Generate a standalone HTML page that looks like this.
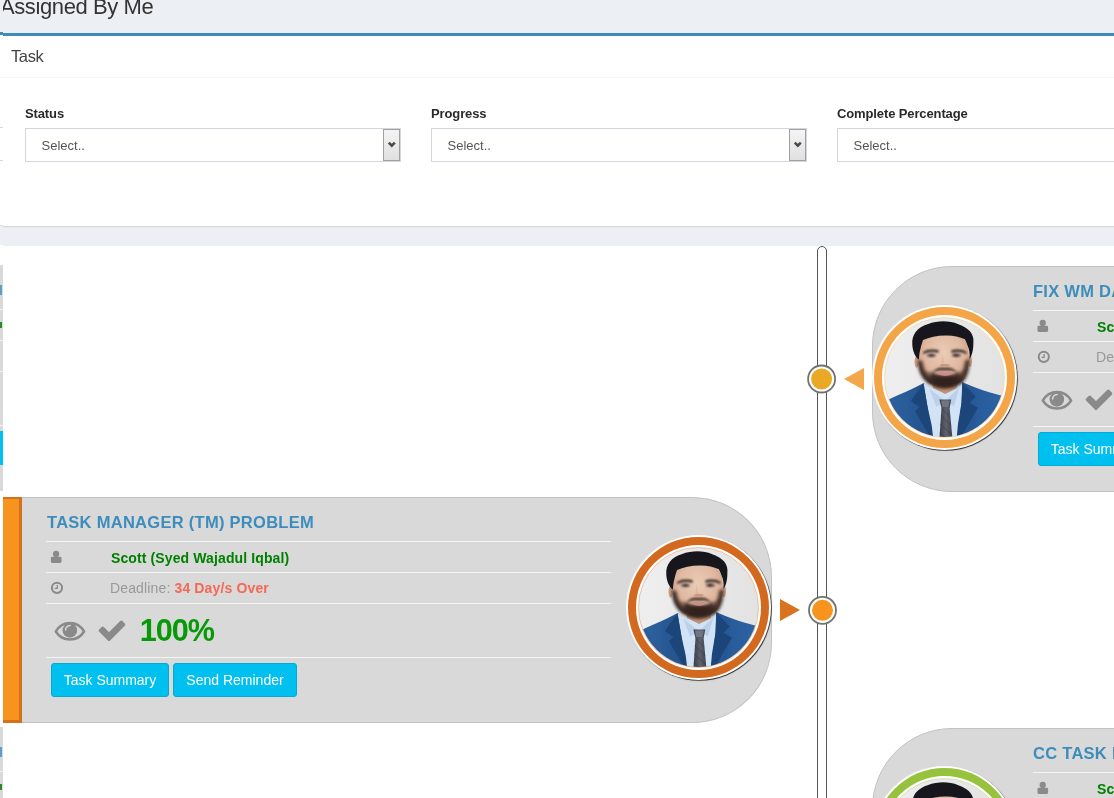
<!DOCTYPE html>
<html lang="en"><head><meta charset="utf-8"><title>Assigned By Me</title>
<style>
html,body{margin:0;padding:0}
body{width:1114px;height:798px;overflow:hidden;background:#ecf0f5;position:relative;font-family:"Liberation Sans",sans-serif;color:#333}
div,svg{box-sizing:border-box}
.ic{overflow:visible}
.abs,.ic,.card,.stripe,.ttl,.ln,.nm,.dl,.pct,.btn,.av,.arr,.avb{position:absolute}
.h1{position:absolute;left:0;top:-7px;font-size:22px;line-height:28px;color:#333;white-space:nowrap;letter-spacing:-.4px}
.box{position:absolute;left:3px;top:33px;width:1200px;height:193px;background:#fff;border-top:3px solid #3c8dbc;box-shadow:0 1px 1px rgba(0,0,0,.1)}
.boxs{position:absolute;left:0;top:32px;width:3px;height:193px;background:#fff;border-top:3px solid #3c8dbc;box-shadow:0 1px 0 rgba(0,0,0,.08)}
.bt{position:absolute;left:11px;top:45px;font-size:16.5px;line-height:22px;color:#444;white-space:nowrap;letter-spacing:-.4px}
.hl{position:absolute;left:0;top:77px;width:1200px;height:1px;background:#f4f4f4}
.lab{position:absolute;top:104.5px;font-size:13px;line-height:18px;font-weight:bold;color:#2a2a2a;white-space:nowrap;letter-spacing:-.12px}
.sel{position:absolute;top:128px;width:376px;height:34px;border:1px solid #d2d6de;background:#fff}
.sel span{position:absolute;left:15.5px;top:7.7px;font-size:13px;line-height:18px;color:#555;white-space:nowrap;transform-origin:0 0}
.sel i{position:absolute;right:0;top:0;width:17px;height:32px;box-sizing:border-box;border:1px solid #a0a0a0;background:linear-gradient(#f4f4f4,#e0e0e0)}
.sel i svg{position:absolute;left:2.85px;top:11.4px}
.white{position:absolute;left:3px;top:246px;width:1200px;height:560px;background:#fff}
.whites{position:absolute;left:0;top:245px;width:3px;height:560px;background:#fff}
.bar{position:absolute;left:817px;top:246px;width:10px;height:600px;border:1px solid #555;border-radius:5px;background:#fff}
.card{background:#d9d9d9;border:1px solid #c2c2c2}
.cl{border-radius:0 80px 80px 0;border-left:0}
.cr{border-radius:80px 0 0 80px}
.stripe{width:19px;border:solid;border-width:2px 3px 3px 0}
.ttl{font-size:16.5px;line-height:22px;font-weight:bold;color:#3c8dbc;letter-spacing:.28px;white-space:nowrap;transform-origin:0 0}
.ln{height:1px;background:#f4f4f4}
.nm{font-size:14px;line-height:18px;font-weight:bold;color:#008000;white-space:nowrap;letter-spacing:.115px}
.dl{font-size:14px;line-height:18px;color:#999;white-space:nowrap;letter-spacing:.14px}
.dl b{color:#f56954}
.pct{font-size:30.6px;line-height:36px;font-weight:bold;color:#089908;white-space:nowrap;letter-spacing:-1px}
.btn{height:34px;background:#00c0ef;border:1px solid #00acd6;border-radius:3px;color:#fff;font-size:14px;line-height:32px;text-align:center;white-space:nowrap}
.av{width:145px;height:145px;border-radius:50%;background:#fff;box-shadow:.8px .8px .7px rgba(0,0,0,.8)}
.rg{position:absolute;left:2px;top:2px;width:141px;height:141px;border-radius:50%}
.wh{position:absolute;left:10.2px;top:10.2px;width:124.6px;height:124.6px;border-radius:50%;background:#fff}
.avi{position:absolute;left:12.6px;top:12.6px;width:119.8px;height:119.8px;border-radius:50%;overflow:hidden;background:#e8e8e8}
.avb{position:absolute;left:12.3px;top:12.3px;width:120.4px;height:120.4px;border-radius:50%;border:.7px solid #000;opacity:.4}
.avi svg{position:absolute;left:-3.6px;top:-4.6px;width:128px;height:128px}
.arr{width:0;height:0;border-top:11px solid transparent;border-bottom:11px solid transparent}
</style></head><body>
<div class="h1" id="h1">Assigned By Me</div>
<div class="abs" style="left:0;top:0;width:3px;height:32px;background:#ecf0f5"></div>
<div class="box"></div><div class="boxs"></div>
<div class="bt" id="bt">Task</div>
<div class="hl"></div>
<div class="lab" style="left:25px">Status</div>
<div class="lab" style="left:431px">Progress</div>
<div class="lab" style="left:837px">Complete Percentage</div>
<div class="sel" style="left:25px"><span>Select..</span><i><svg width="10" height="8" viewBox="0 0 10 8"><path d="M1.8 1.7l3 3 3-3" fill="none" stroke="#4a4a4a" stroke-width="2.600"/></svg></i></div>
<div class="sel" style="left:431px"><span>Select..</span><i><svg width="10" height="8" viewBox="0 0 10 8"><path d="M1.8 1.7l3 3 3-3" fill="none" stroke="#4a4a4a" stroke-width="2.600"/></svg></i></div>
<div class="sel" style="left:837px"><span>Select..</span><i><svg width="10" height="8" viewBox="0 0 10 8"><path d="M1.8 1.7l3 3 3-3" fill="none" stroke="#4a4a4a" stroke-width="2.600"/></svg></i></div>
<div class="abs" style="left:0;top:127px;width:3px;height:34px;border:solid #d2d6de;border-width:1px 0"></div>
<div class="white"></div><div class="whites"></div>
<div class="bar"></div>
<div style="position:absolute;left:0;top:265px;width:3px;height:226px;background:#d9d9d9"></div>
<div style="position:absolute;left:0;top:309px;width:3px;height:1px;background:#f4f4f4"></div>
<div style="position:absolute;left:0;top:340px;width:3px;height:1px;background:#f4f4f4"></div>
<div style="position:absolute;left:0;top:371px;width:3px;height:1px;background:#f4f4f4"></div>
<div style="position:absolute;left:0;top:425px;width:3px;height:1px;background:#f4f4f4"></div>
<div style="position:absolute;left:0;top:431px;width:3px;height:34px;background:#00c0ef"></div>
<div style="position:absolute;left:0;top:285px;width:2px;height:10px;background:#5f9fc6"></div>
<div style="position:absolute;left:0;top:322px;width:2px;height:6px;background:#2a8a2a"></div>
<div style="position:absolute;left:0;top:727px;width:3px;height:226px;background:#d9d9d9"></div>
<div style="position:absolute;left:0;top:771px;width:3px;height:1px;background:#f4f4f4"></div>
<div style="position:absolute;left:0;top:802px;width:3px;height:1px;background:#f4f4f4"></div>
<div style="position:absolute;left:0;top:833px;width:3px;height:1px;background:#f4f4f4"></div>
<div style="position:absolute;left:0;top:887px;width:3px;height:1px;background:#f4f4f4"></div>
<div style="position:absolute;left:0;top:893px;width:3px;height:34px;background:#00c0ef"></div>
<div style="position:absolute;left:0;top:747px;width:2px;height:10px;background:#5f9fc6"></div>
<div style="position:absolute;left:0;top:784px;width:2px;height:6px;background:#2a8a2a"></div>
<div class="card cr" style="left:872px;top:266px;width:400px;height:226px"></div>
<div class="ttl" style="left:1033px;top:280px">FIX WM DASHBOARD</div>
<div class="ln" style="left:1033px;top:310px;width:100px"></div>
<div class="ln" style="left:1033px;top:341px;width:100px"></div>
<div class="ln" style="left:1033px;top:372px;width:100px"></div>
<div class="ln" style="left:1033px;top:426px;width:100px"></div>
<svg class="ic" style="left:1036px;top:319px" width="14" height="15" viewBox="0 0 14 15"><g transform="translate(0.6 0)"><rect x="0.9" y="6.8" width="10.6" height="6.100" rx="1.3" fill="#8a8a8a"/><circle cx="6.100" cy="4" r="3.150" fill="#8a8a8a"/></g></svg>
<div class="nm" style="left:1097px;top:317.5px">Scott (Syed Wajadul Iqbal)</div>
<svg class="ic" style="left:1037px;top:350px" width="14" height="14" viewBox="0 0 14 14"><g transform="translate(0.3 0.5)"><circle cx="6.500" cy="6.350" r="5.100" fill="none" stroke="#8a8a8a" stroke-width="2"/><path d="M6.800 3.600V6.900H4.300" fill="none" stroke="#8a8a8a" stroke-width="1.300"/></g></svg>
<div class="dl" style="left:1096px;top:348px">Deadline: <b>34 Day/s Over</b></div>
<svg class="ic" style="left:1041px;top:390px" width="32" height="21" viewBox="0 0 32 21"><g transform="translate(0.2 0)"><path fill="none" stroke="#8a8a8a" stroke-width="2.5" stroke-linejoin="round" d="M1.6 10.5C4.7 5.2 9.8 2 15.75 2S26.8 5.2 29.9 10.5C26.8 15.5 21.7 18.500 15.75 18.500S4.7 15.5 1.6 10.5z"/><circle cx="15.65" cy="9.4" r="7.3" fill="#8a8a8a"/><path d="M11.4 8.9a4.500 4.500 0 0 1 4.500-4.500" fill="none" stroke="#d9d9d9" stroke-width="1.5" stroke-linecap="round"/></g></svg>
<svg class="ic" style="left:1085px;top:389px" width="28" height="22" viewBox="0 0 28 22"><g transform="translate(0.5 0.5)"><path fill="#8a8a8a" stroke="#8a8a8a" stroke-width="3.2" stroke-linejoin="round" d="M1.8 10.1L4.2 7.7 10.5 14 22.8 1.7 25.2 4.1 10.5 18.8z"/></g></svg>
<div class="btn" style="left:1038px;top:432px;width:118px">Task Summary</div>
<div class="av" style="left:872px;top:305px"><div class="rg" style="background:#f4a548"></div><div class="wh"></div><div class="avi"><svg viewBox="0 0 798 798" width="128" height="128">
<defs>
<linearGradient id="pbg_1" x1="0" x2="1" y1="0" y2="0"><stop offset="0" stop-color="#efefef"/><stop offset="1" stop-color="#e2e2e2"/></linearGradient>
<radialGradient id="psk_1" cx=".5" cy=".38" r=".62"><stop offset="0" stop-color="#ebccb6"/><stop offset=".6" stop-color="#e0b8a1"/><stop offset="1" stop-color="#c8957b"/></radialGradient>
<linearGradient id="pst_1" x1="0" x2="1" y1="0" y2="0"><stop offset="0" stop-color="#2d64a3"/><stop offset=".35" stop-color="#26548e"/><stop offset=".7" stop-color="#275896"/><stop offset="1" stop-color="#2f68a9"/></linearGradient>
<linearGradient id="pti_1" x1="0" x2="1" y1="0" y2="0"><stop offset="0" stop-color="#3a3e49"/><stop offset=".5" stop-color="#5d616d"/><stop offset="1" stop-color="#3f434e"/></linearGradient>
<filter id="pb_1" x="-5%" y="-5%" width="110%" height="110%"><feGaussianBlur stdDeviation="3.5"/></filter>
<filter id="pb2_1" x="-20%" y="-20%" width="140%" height="140%"><feGaussianBlur stdDeviation="9"/></filter>
<filter id="pb3_1" x="-20%" y="-40%" width="140%" height="180%"><feGaussianBlur stdDeviation="5"/></filter>
</defs>
<rect width="798" height="798" fill="url(#pbg_1)"/>
<g filter="url(#pb_1)">
<path fill="url(#pst_1)" d="M30 548 C80 520 170 490 266 436 L400 540 L506 430 C590 470 690 500 775 520 L800 800 L0 800z"/>
<path fill="#d2e3f5" d="M266 438 L330 470 L400 500 L470 468 L506 432 L502 560 L472 800 L322 800 L292 600z"/>
<path fill="#bcd1e9" d="M300 470 L400 548 L345 585z"/>
<path fill="#bcd1e9" d="M490 462 L400 548 L455 582z"/>
<path fill="#1e4479" d="M264 440 L186 548 L240 586 L212 612 L322 800 L328 800 L316 700 L292 592z"/>
<path fill="#1e4479" d="M508 434 L590 520 L552 560 L604 590 L484 800 L470 800 L480 690 L502 560z"/>
<path fill="#c29378" d="M310 410 L488 410 L470 470 L400 505 L325 468z"/>
<path fill="url(#pti_1)" d="M364 540 L438 540 L428 594 L447 800 L363 800 L377 594z"/>
<path fill="#70747f" d="M374 546 L428 546 L420 586 L382 586z"/>
<ellipse cx="222" cy="305" rx="13" ry="36" fill="#d3a188"/>
<ellipse cx="554" cy="300" rx="13" ry="36" fill="#d3a188"/>
<path fill="url(#psk_1)" d="M230 250 C226 170 290 118 392 118 C492 118 548 170 547 250 C550 320 540 372 520 405 C500 435 460 462 398 466 C340 462 300 440 272 405 C248 372 232 320 230 250z"/>
</g>
<g filter="url(#pb2_1)">
<path fill="#33241f" opacity=".95" d="M228 268 C236 330 252 378 285 408 C300 398 312 388 322 372 C350 392 450 392 478 372 C488 388 500 398 512 408 C540 378 546 330 551 264 C560 350 540 400 512 430 C480 458 440 470 398 472 C350 470 312 456 282 428 C246 396 224 350 228 268z"/>
<path fill="#33241f" opacity=".9" d="M322 440 C338 418 346 404 350 394 C375 404 422 404 446 394 C452 404 462 420 476 440 C448 462 425 468 398 468 C365 468 345 460 322 440z"/>
<path fill="#2e211d" opacity=".8" d="M231 296 C236 360 262 412 300 442 L320 420 C288 395 266 350 258 298z"/>
<path fill="#2e211d" opacity=".8" d="M549 292 C546 360 520 412 484 442 L466 420 C498 395 520 350 524 294z"/>
<path fill="#4a362d" opacity=".6" d="M244 340 C262 365 295 372 330 366 L306 430 C270 405 250 375 244 340z"/>
<path fill="#4a362d" opacity=".6" d="M536 340 C518 365 490 372 466 366 L488 430 C520 405 532 375 536 340z"/>
</g>
<g filter="url(#pb_1)">
<path fill="#3b2b25" opacity=".9" filter="url(#pb3_1)" d="M322 372 C342 340 374 336 398 342 C422 336 454 340 476 372 C446 358 422 358 398 360 C374 358 350 358 322 372z"/>
<path fill="#c98e87" d="M350 376 C370 364 386 368 399 370 C412 368 430 364 450 376 C428 396 372 396 350 376z"/>
<path fill="#19191d" d="M236 292 C212 272 197 236 195 196 C190 132 228 90 290 70 C325 58 358 52 388 52 C420 52 452 58 482 70 C548 92 582 132 576 184 C576 232 568 262 552 288 C554 250 550 226 540 204 C532 186 528 172 522 164 C490 146 440 138 400 140 C350 140 300 152 262 168 C254 190 250 206 246 224 C240 246 238 264 236 292z"/>
<path fill="#c9977c" d="M364 324 C380 338 414 338 430 324 C416 316 378 316 364 324z"/>
<path fill="#d4a68d" opacity=".45" d="M384 256 L376 312 L394 318z"/>
</g>
<g filter="url(#pb3_1)">
<path fill="#2a211f" d="M262 244 C290 226 330 224 360 234 L358 248 C328 238 296 240 264 256z"/>
<path fill="#2a211f" d="M438 234 C468 224 508 226 534 244 L532 256 C502 240 470 238 440 248z"/>
<ellipse cx="314" cy="264" rx="28" ry="10" fill="#5a474b"/>
<ellipse cx="470" cy="263" rx="28" ry="10" fill="#5a474b"/>
<ellipse cx="316" cy="264" rx="11" ry="9" fill="#2c2830"/>
<ellipse cx="468" cy="263" rx="11" ry="9" fill="#2c2830"/>
</g>
<g stroke="#2e313a" stroke-width="5" opacity=".5" filter="url(#pb_1)">
<path d="M372 640 L438 700 M368 692 L442 758 M376 596 L432 648 M366 745 L420 798"/>
</g>
<path d="M340 27 H452" stroke="#6a6a66" stroke-width="5" fill="none"/>
</svg>
</div><div class="avb" style="border-color:#f4a548"></div></div>
<div class="arr" style="left:844px;top:368px;border-right:20px solid #f4a64a"></div>
<svg class="ic" style="left:807px;top:364px" width="30" height="30" viewBox="0 0 30 30"><g transform="translate(0.1 0.5)"><circle cx="14.500" cy="14.500" r="13.500" fill="#fff" stroke="#727272" stroke-width="1.800"/><circle cx="14.500" cy="14.500" r="10.500" fill="#e9a825"/></g></svg>
<div class="card cl" style="left:3px;top:497px;width:768.5px;height:226px"></div>
<div class="stripe" style="left:3px;top:497px;height:226px;background:#f7941e;border-color:#d4711f"></div>
<div class="ttl" style="left:47px;top:511px">TASK MANAGER (TM) PROBLEM</div>
<div class="ln" style="left:46px;top:541px;width:565px"></div>
<div class="ln" style="left:46px;top:572px;width:565px"></div>
<div class="ln" style="left:46px;top:603px;width:565px"></div>
<div class="ln" style="left:46px;top:657px;width:565px"></div>
<svg class="ic" style="left:50px;top:550px" width="14" height="15" viewBox="0 0 14 15"><g transform="translate(0 0)"><rect x="0.9" y="6.8" width="10.6" height="6.100" rx="1.3" fill="#8a8a8a"/><circle cx="6.100" cy="4" r="3.150" fill="#8a8a8a"/></g></svg>
<div class="nm" style="left:111px;top:548.5px">Scott (Syed Wajadul Iqbal)</div>
<svg class="ic" style="left:50px;top:581px" width="14" height="14" viewBox="0 0 14 14"><g transform="translate(0.5 0.5)"><circle cx="6.500" cy="6.350" r="5.100" fill="none" stroke="#8a8a8a" stroke-width="2"/><path d="M6.800 3.600V6.900H4.300" fill="none" stroke="#8a8a8a" stroke-width="1.300"/></g></svg>
<div class="dl" style="left:110px;top:579px">Deadline: <b>34 Day/s Over</b></div>
<svg class="ic" style="left:54px;top:621px" width="32" height="21" viewBox="0 0 32 21"><g transform="translate(0.2 0)"><path fill="none" stroke="#8a8a8a" stroke-width="2.5" stroke-linejoin="round" d="M1.6 10.5C4.7 5.2 9.8 2 15.75 2S26.8 5.2 29.9 10.5C26.8 15.5 21.7 18.500 15.75 18.500S4.7 15.5 1.6 10.5z"/><circle cx="15.65" cy="9.4" r="7.3" fill="#8a8a8a"/><path d="M11.4 8.9a4.500 4.500 0 0 1 4.500-4.500" fill="none" stroke="#d9d9d9" stroke-width="1.5" stroke-linecap="round"/></g></svg>
<svg class="ic" style="left:98px;top:620px" width="28" height="22" viewBox="0 0 28 22"><g transform="translate(0.5 0.5)"><path fill="#8a8a8a" stroke="#8a8a8a" stroke-width="3.2" stroke-linejoin="round" d="M1.8 10.1L4.2 7.7 10.5 14 22.8 1.7 25.2 4.1 10.5 18.8z"/></g></svg>
<div class="pct" style="left:139.7px;top:612px">100%</div>
<div class="btn" style="left:51px;top:663px;width:118px">Task Summary</div>
<div class="btn" style="left:173px;top:663px;width:124px">Send Reminder</div>
<div class="av" style="left:626px;top:535px"><div class="rg" style="background:#d2691e"></div><div class="wh"></div><div class="avi"><svg viewBox="0 0 798 798" width="128" height="128">
<defs>
<linearGradient id="pbg_2" x1="0" x2="1" y1="0" y2="0"><stop offset="0" stop-color="#efefef"/><stop offset="1" stop-color="#e2e2e2"/></linearGradient>
<radialGradient id="psk_2" cx=".5" cy=".38" r=".62"><stop offset="0" stop-color="#ebccb6"/><stop offset=".6" stop-color="#e0b8a1"/><stop offset="1" stop-color="#c8957b"/></radialGradient>
<linearGradient id="pst_2" x1="0" x2="1" y1="0" y2="0"><stop offset="0" stop-color="#2d64a3"/><stop offset=".35" stop-color="#26548e"/><stop offset=".7" stop-color="#275896"/><stop offset="1" stop-color="#2f68a9"/></linearGradient>
<linearGradient id="pti_2" x1="0" x2="1" y1="0" y2="0"><stop offset="0" stop-color="#3a3e49"/><stop offset=".5" stop-color="#5d616d"/><stop offset="1" stop-color="#3f434e"/></linearGradient>
<filter id="pb_2" x="-5%" y="-5%" width="110%" height="110%"><feGaussianBlur stdDeviation="3.5"/></filter>
<filter id="pb2_2" x="-20%" y="-20%" width="140%" height="140%"><feGaussianBlur stdDeviation="9"/></filter>
<filter id="pb3_2" x="-20%" y="-40%" width="140%" height="180%"><feGaussianBlur stdDeviation="5"/></filter>
</defs>
<rect width="798" height="798" fill="url(#pbg_2)"/>
<g filter="url(#pb_2)">
<path fill="url(#pst_2)" d="M30 548 C80 520 170 490 266 436 L400 540 L506 430 C590 470 690 500 775 520 L800 800 L0 800z"/>
<path fill="#d2e3f5" d="M266 438 L330 470 L400 500 L470 468 L506 432 L502 560 L472 800 L322 800 L292 600z"/>
<path fill="#bcd1e9" d="M300 470 L400 548 L345 585z"/>
<path fill="#bcd1e9" d="M490 462 L400 548 L455 582z"/>
<path fill="#1e4479" d="M264 440 L186 548 L240 586 L212 612 L322 800 L328 800 L316 700 L292 592z"/>
<path fill="#1e4479" d="M508 434 L590 520 L552 560 L604 590 L484 800 L470 800 L480 690 L502 560z"/>
<path fill="#c29378" d="M310 410 L488 410 L470 470 L400 505 L325 468z"/>
<path fill="url(#pti_2)" d="M364 540 L438 540 L428 594 L447 800 L363 800 L377 594z"/>
<path fill="#70747f" d="M374 546 L428 546 L420 586 L382 586z"/>
<ellipse cx="222" cy="305" rx="13" ry="36" fill="#d3a188"/>
<ellipse cx="554" cy="300" rx="13" ry="36" fill="#d3a188"/>
<path fill="url(#psk_2)" d="M230 250 C226 170 290 118 392 118 C492 118 548 170 547 250 C550 320 540 372 520 405 C500 435 460 462 398 466 C340 462 300 440 272 405 C248 372 232 320 230 250z"/>
</g>
<g filter="url(#pb2_2)">
<path fill="#33241f" opacity=".95" d="M228 268 C236 330 252 378 285 408 C300 398 312 388 322 372 C350 392 450 392 478 372 C488 388 500 398 512 408 C540 378 546 330 551 264 C560 350 540 400 512 430 C480 458 440 470 398 472 C350 470 312 456 282 428 C246 396 224 350 228 268z"/>
<path fill="#33241f" opacity=".9" d="M322 440 C338 418 346 404 350 394 C375 404 422 404 446 394 C452 404 462 420 476 440 C448 462 425 468 398 468 C365 468 345 460 322 440z"/>
<path fill="#2e211d" opacity=".8" d="M231 296 C236 360 262 412 300 442 L320 420 C288 395 266 350 258 298z"/>
<path fill="#2e211d" opacity=".8" d="M549 292 C546 360 520 412 484 442 L466 420 C498 395 520 350 524 294z"/>
<path fill="#4a362d" opacity=".6" d="M244 340 C262 365 295 372 330 366 L306 430 C270 405 250 375 244 340z"/>
<path fill="#4a362d" opacity=".6" d="M536 340 C518 365 490 372 466 366 L488 430 C520 405 532 375 536 340z"/>
</g>
<g filter="url(#pb_2)">
<path fill="#3b2b25" opacity=".9" filter="url(#pb3_2)" d="M322 372 C342 340 374 336 398 342 C422 336 454 340 476 372 C446 358 422 358 398 360 C374 358 350 358 322 372z"/>
<path fill="#c98e87" d="M350 376 C370 364 386 368 399 370 C412 368 430 364 450 376 C428 396 372 396 350 376z"/>
<path fill="#19191d" d="M236 292 C212 272 197 236 195 196 C190 132 228 90 290 70 C325 58 358 52 388 52 C420 52 452 58 482 70 C548 92 582 132 576 184 C576 232 568 262 552 288 C554 250 550 226 540 204 C532 186 528 172 522 164 C490 146 440 138 400 140 C350 140 300 152 262 168 C254 190 250 206 246 224 C240 246 238 264 236 292z"/>
<path fill="#c9977c" d="M364 324 C380 338 414 338 430 324 C416 316 378 316 364 324z"/>
<path fill="#d4a68d" opacity=".45" d="M384 256 L376 312 L394 318z"/>
</g>
<g filter="url(#pb3_2)">
<path fill="#2a211f" d="M262 244 C290 226 330 224 360 234 L358 248 C328 238 296 240 264 256z"/>
<path fill="#2a211f" d="M438 234 C468 224 508 226 534 244 L532 256 C502 240 470 238 440 248z"/>
<ellipse cx="314" cy="264" rx="28" ry="10" fill="#5a474b"/>
<ellipse cx="470" cy="263" rx="28" ry="10" fill="#5a474b"/>
<ellipse cx="316" cy="264" rx="11" ry="9" fill="#2c2830"/>
<ellipse cx="468" cy="263" rx="11" ry="9" fill="#2c2830"/>
</g>
<g stroke="#2e313a" stroke-width="5" opacity=".5" filter="url(#pb_2)">
<path d="M372 640 L438 700 M368 692 L442 758 M376 596 L432 648 M366 745 L420 798"/>
</g>
<path d="M340 27 H452" stroke="#6a6a66" stroke-width="5" fill="none"/>
</svg>
</div><div class="avb" style="border-color:#d2691e"></div></div>
<div class="arr" style="left:780px;top:599px;border-left:20px solid #d9731f"></div>
<svg class="ic" style="left:808px;top:595px" width="30" height="30" viewBox="0 0 30 30"><g transform="translate(0 0.8)"><circle cx="14.500" cy="14.500" r="13.500" fill="#fff" stroke="#727272" stroke-width="1.800"/><circle cx="14.500" cy="14.500" r="10.500" fill="#f7941e"/></g></svg>
<div class="card cr" style="left:872px;top:728px;width:400px;height:226px"></div>
<div class="ttl" style="left:1033px;top:742px">CC TASK MANAGER</div>
<div class="ln" style="left:1033px;top:772px;width:100px"></div>
<div class="ln" style="left:1033px;top:803px;width:100px"></div>
<div class="ln" style="left:1033px;top:834px;width:100px"></div>
<div class="ln" style="left:1033px;top:888px;width:100px"></div>
<svg class="ic" style="left:1036px;top:781px" width="14" height="15" viewBox="0 0 14 15"><g transform="translate(0.6 0)"><rect x="0.9" y="6.8" width="10.6" height="6.100" rx="1.3" fill="#8a8a8a"/><circle cx="6.100" cy="4" r="3.150" fill="#8a8a8a"/></g></svg>
<div class="nm" style="left:1097px;top:779.5px">Scott (Syed Wajadul Iqbal)</div>
<svg class="ic" style="left:1037px;top:812px" width="14" height="14" viewBox="0 0 14 14"><g transform="translate(0.3 0.5)"><circle cx="6.500" cy="6.350" r="5.100" fill="none" stroke="#8a8a8a" stroke-width="2"/><path d="M6.800 3.600V6.900H4.300" fill="none" stroke="#8a8a8a" stroke-width="1.300"/></g></svg>
<div class="dl" style="left:1096px;top:810px">Deadline: <b>34 Day/s Over</b></div>
<svg class="ic" style="left:1041px;top:852px" width="32" height="21" viewBox="0 0 32 21"><g transform="translate(0.2 0)"><path fill="none" stroke="#8a8a8a" stroke-width="2.5" stroke-linejoin="round" d="M1.6 10.5C4.7 5.2 9.8 2 15.75 2S26.8 5.2 29.9 10.5C26.8 15.5 21.7 18.500 15.75 18.500S4.7 15.5 1.6 10.5z"/><circle cx="15.65" cy="9.4" r="7.3" fill="#8a8a8a"/><path d="M11.4 8.9a4.500 4.500 0 0 1 4.500-4.500" fill="none" stroke="#d9d9d9" stroke-width="1.5" stroke-linecap="round"/></g></svg>
<svg class="ic" style="left:1085px;top:851px" width="28" height="22" viewBox="0 0 28 22"><g transform="translate(0.5 0.5)"><path fill="#8a8a8a" stroke="#8a8a8a" stroke-width="3.2" stroke-linejoin="round" d="M1.8 10.1L4.2 7.7 10.5 14 22.8 1.7 25.2 4.1 10.5 18.8z"/></g></svg>
<div class="btn" style="left:1038px;top:894px;width:118px">Task Summary</div>
<div class="av" style="left:872px;top:766px"><div class="rg" style="background:#97c23d"></div><div class="wh"></div><div class="avi"><svg viewBox="0 0 798 798" width="128" height="128">
<defs>
<linearGradient id="pbg_3" x1="0" x2="1" y1="0" y2="0"><stop offset="0" stop-color="#efefef"/><stop offset="1" stop-color="#e2e2e2"/></linearGradient>
<radialGradient id="psk_3" cx=".5" cy=".38" r=".62"><stop offset="0" stop-color="#ebccb6"/><stop offset=".6" stop-color="#e0b8a1"/><stop offset="1" stop-color="#c8957b"/></radialGradient>
<linearGradient id="pst_3" x1="0" x2="1" y1="0" y2="0"><stop offset="0" stop-color="#2d64a3"/><stop offset=".35" stop-color="#26548e"/><stop offset=".7" stop-color="#275896"/><stop offset="1" stop-color="#2f68a9"/></linearGradient>
<linearGradient id="pti_3" x1="0" x2="1" y1="0" y2="0"><stop offset="0" stop-color="#3a3e49"/><stop offset=".5" stop-color="#5d616d"/><stop offset="1" stop-color="#3f434e"/></linearGradient>
<filter id="pb_3" x="-5%" y="-5%" width="110%" height="110%"><feGaussianBlur stdDeviation="3.5"/></filter>
<filter id="pb2_3" x="-20%" y="-20%" width="140%" height="140%"><feGaussianBlur stdDeviation="9"/></filter>
<filter id="pb3_3" x="-20%" y="-40%" width="140%" height="180%"><feGaussianBlur stdDeviation="5"/></filter>
</defs>
<rect width="798" height="798" fill="url(#pbg_3)"/>
<g filter="url(#pb_3)">
<path fill="url(#pst_3)" d="M30 548 C80 520 170 490 266 436 L400 540 L506 430 C590 470 690 500 775 520 L800 800 L0 800z"/>
<path fill="#d2e3f5" d="M266 438 L330 470 L400 500 L470 468 L506 432 L502 560 L472 800 L322 800 L292 600z"/>
<path fill="#bcd1e9" d="M300 470 L400 548 L345 585z"/>
<path fill="#bcd1e9" d="M490 462 L400 548 L455 582z"/>
<path fill="#1e4479" d="M264 440 L186 548 L240 586 L212 612 L322 800 L328 800 L316 700 L292 592z"/>
<path fill="#1e4479" d="M508 434 L590 520 L552 560 L604 590 L484 800 L470 800 L480 690 L502 560z"/>
<path fill="#c29378" d="M310 410 L488 410 L470 470 L400 505 L325 468z"/>
<path fill="url(#pti_3)" d="M364 540 L438 540 L428 594 L447 800 L363 800 L377 594z"/>
<path fill="#70747f" d="M374 546 L428 546 L420 586 L382 586z"/>
<ellipse cx="222" cy="305" rx="13" ry="36" fill="#d3a188"/>
<ellipse cx="554" cy="300" rx="13" ry="36" fill="#d3a188"/>
<path fill="url(#psk_3)" d="M230 250 C226 170 290 118 392 118 C492 118 548 170 547 250 C550 320 540 372 520 405 C500 435 460 462 398 466 C340 462 300 440 272 405 C248 372 232 320 230 250z"/>
</g>
<g filter="url(#pb2_3)">
<path fill="#33241f" opacity=".95" d="M228 268 C236 330 252 378 285 408 C300 398 312 388 322 372 C350 392 450 392 478 372 C488 388 500 398 512 408 C540 378 546 330 551 264 C560 350 540 400 512 430 C480 458 440 470 398 472 C350 470 312 456 282 428 C246 396 224 350 228 268z"/>
<path fill="#33241f" opacity=".9" d="M322 440 C338 418 346 404 350 394 C375 404 422 404 446 394 C452 404 462 420 476 440 C448 462 425 468 398 468 C365 468 345 460 322 440z"/>
<path fill="#2e211d" opacity=".8" d="M231 296 C236 360 262 412 300 442 L320 420 C288 395 266 350 258 298z"/>
<path fill="#2e211d" opacity=".8" d="M549 292 C546 360 520 412 484 442 L466 420 C498 395 520 350 524 294z"/>
<path fill="#4a362d" opacity=".6" d="M244 340 C262 365 295 372 330 366 L306 430 C270 405 250 375 244 340z"/>
<path fill="#4a362d" opacity=".6" d="M536 340 C518 365 490 372 466 366 L488 430 C520 405 532 375 536 340z"/>
</g>
<g filter="url(#pb_3)">
<path fill="#3b2b25" opacity=".9" filter="url(#pb3_3)" d="M322 372 C342 340 374 336 398 342 C422 336 454 340 476 372 C446 358 422 358 398 360 C374 358 350 358 322 372z"/>
<path fill="#c98e87" d="M350 376 C370 364 386 368 399 370 C412 368 430 364 450 376 C428 396 372 396 350 376z"/>
<path fill="#19191d" d="M236 292 C212 272 197 236 195 196 C190 132 228 90 290 70 C325 58 358 52 388 52 C420 52 452 58 482 70 C548 92 582 132 576 184 C576 232 568 262 552 288 C554 250 550 226 540 204 C532 186 528 172 522 164 C490 146 440 138 400 140 C350 140 300 152 262 168 C254 190 250 206 246 224 C240 246 238 264 236 292z"/>
<path fill="#c9977c" d="M364 324 C380 338 414 338 430 324 C416 316 378 316 364 324z"/>
<path fill="#d4a68d" opacity=".45" d="M384 256 L376 312 L394 318z"/>
</g>
<g filter="url(#pb3_3)">
<path fill="#2a211f" d="M262 244 C290 226 330 224 360 234 L358 248 C328 238 296 240 264 256z"/>
<path fill="#2a211f" d="M438 234 C468 224 508 226 534 244 L532 256 C502 240 470 238 440 248z"/>
<ellipse cx="314" cy="264" rx="28" ry="10" fill="#5a474b"/>
<ellipse cx="470" cy="263" rx="28" ry="10" fill="#5a474b"/>
<ellipse cx="316" cy="264" rx="11" ry="9" fill="#2c2830"/>
<ellipse cx="468" cy="263" rx="11" ry="9" fill="#2c2830"/>
</g>
<g stroke="#2e313a" stroke-width="5" opacity=".5" filter="url(#pb_3)">
<path d="M372 640 L438 700 M368 692 L442 758 M376 596 L432 648 M366 745 L420 798"/>
</g>
<path d="M340 27 H452" stroke="#6a6a66" stroke-width="5" fill="none"/>
</svg>
</div><div class="avb" style="border-color:#97c23d"></div></div>
<div class="arr" style="left:844px;top:830px;border-right:20px solid #97c23d"></div>
<svg class="ic" style="left:807px;top:826px" width="30" height="30" viewBox="0 0 30 30"><g transform="translate(0.1 0.5)"><circle cx="14.500" cy="14.500" r="13.500" fill="#fff" stroke="#727272" stroke-width="1.800"/><circle cx="14.500" cy="14.500" r="10.500" fill="#97c23d"/></g></svg>
</body></html>
